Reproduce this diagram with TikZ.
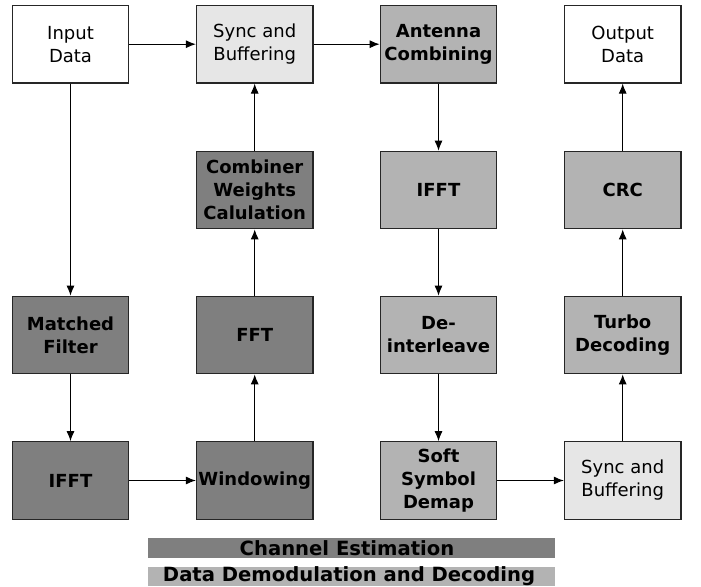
\documentclass[tikz,border=0pt]{standalone}
\usepackage{fontspec}
\setmainfont{DejaVu Sans}
\usetikzlibrary{arrows.meta}
\definecolor{dk}{HTML}{7F7F7F}
\definecolor{md}{HTML}{B3B3B3}
\definecolor{lt}{HTML}{E6E6E6}
\begin{document}
\begin{tikzpicture}[x=1pt,y=-1pt,
  blk/.style={draw=black!85, line width=1.2pt, minimum width=116.5pt, minimum height=77.5pt,
    inner sep=0pt, align=center, font=\fontsize{18}{23}\selectfont},
  plain/.style={blk, fill=white},
  buf/.style={blk, fill=lt},
  ce/.style={blk, fill=dk, font=\fontsize{18}{23}\selectfont\bfseries},
  dd/.style={blk, fill=md, font=\fontsize{18}{23}\selectfont\bfseries},
  arr/.style={-{Latex[length=10pt,width=8pt]}, line width=1pt},
  legtxt/.style={inner sep=0pt, font=\fontsize{19.6}{23}\selectfont\bfseries}]
\useasboundingbox (0,0) rectangle (701,586);
% column centres 70.5, 254.7, 438.5, 622.7 ; row centres 44.2, 190, 335, 480.5
\node[plain] (in)   at (70.5,44.2)  {Input\\Data};
\node[buf]   (sync) at (254.7,44.2) {Sync and\\Buffering};
\node[dd]    (ant)  at (438.5,44.2) {Antenna\\Combining};
\node[plain] (out)  at (622.7,44.2) {Output\\Data};

\node[ce] (comb)  at (254.7,190) {Combiner\\Weights\\Calulation};
\node[dd] (ifft2) at (438.5,190) {IFFT};
\node[dd] (crc)   at (622.7,190) {CRC};

\node[ce] (mf)    at (70.5,335)  {Matched\\Filter};
\node[ce] (fft)   at (254.7,335) {FFT};
\node[dd] (deint) at (438.5,335) {De-\\interleave};
\node[dd] (turbo) at (622.7,335) {Turbo\\Decoding};

\node[ce]  (ifft1) at (70.5,480.5)  {IFFT};
\node[ce]  (win)   at (254.7,480.5) {Windowing};
\node[dd]  (soft)  at (438.5,480.5) {Soft\\Symbol\\Demap};
\node[buf] (sync2) at (622.7,480.5) {Sync and\\Buffering};

\draw[arr] (in) -- (sync);
\draw[arr] (sync) -- (ant);
\draw[arr] (in) -- (mf);
\draw[arr] (mf) -- (ifft1);
\draw[arr] (ifft1) -- (win);
\draw[arr] (win) -- (fft);
\draw[arr] (fft) -- (comb);
\draw[arr] (comb) -- (sync);
\draw[arr] (ant) -- (ifft2);
\draw[arr] (ifft2) -- (deint);
\draw[arr] (deint) -- (soft);
\draw[arr] (soft) -- (sync2);
\draw[arr] (sync2) -- (turbo);
\draw[arr] (turbo) -- (crc);
\draw[arr] (crc) -- (out);

\fill[dk] (148,538.3) rectangle (554.7,557.7);
\fill[md] (148,567.3) rectangle (554.7,586);
\node[legtxt] (leg1) at (347,548.5) {Channel Estimation};
\node[legtxt] (leg2) at (349,576.5) {Data Demodulation and Decoding};
\end{tikzpicture}
\end{document}
